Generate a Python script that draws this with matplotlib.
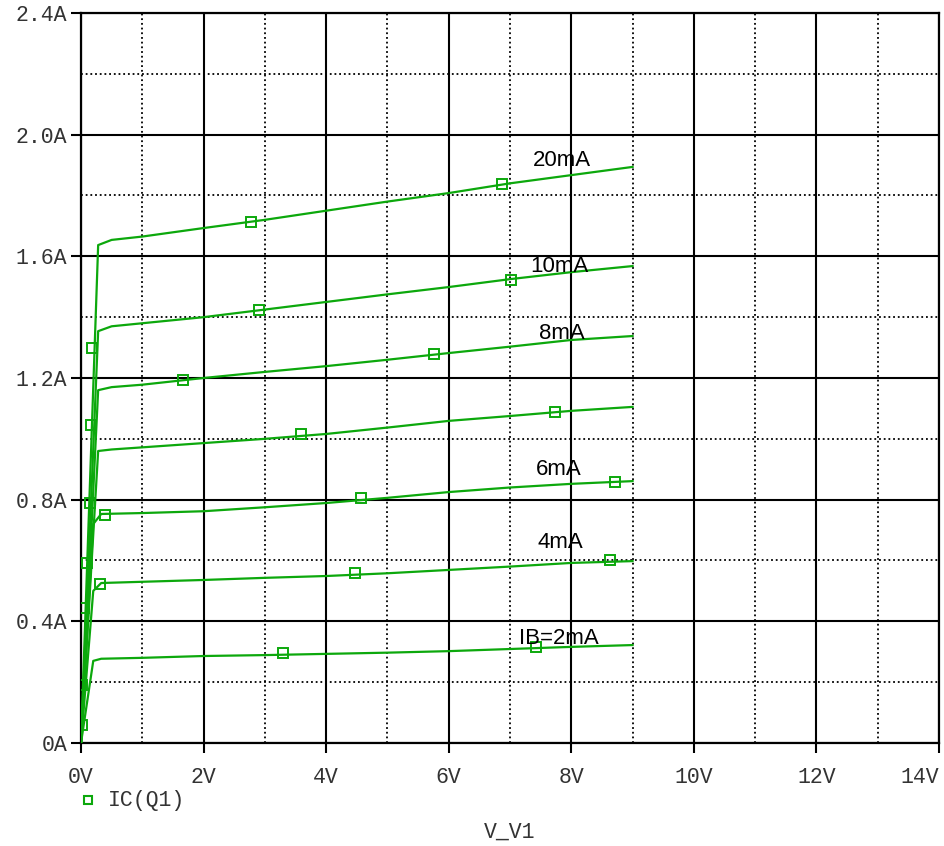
import matplotlib
matplotlib.use("Agg")
import matplotlib.pyplot as plt
from matplotlib.lines import Line2D
from matplotlib.ticker import MultipleLocator

# collector current traces, one per base current (V_V1 in V, IC in A)
v_pts = [0, 0.28, 0.5, 1, 2, 3, 4, 5, 6, 7, 8, 9]
ic_20ma = [0, 1.637, 1.654, 1.665, 1.693, 1.72, 1.75, 1.78, 1.808, 1.84, 1.867, 1.894]
ic_10ma = [0, 1.354, 1.37, 1.38, 1.40, 1.425, 1.45, 1.475, 1.499, 1.525, 1.548, 1.568]
ic_8ma = [0, 1.16, 1.17, 1.178, 1.20, 1.22, 1.239, 1.26, 1.282, 1.303, 1.325, 1.338]
ic_7ma = [0, 0.96, 0.965, 0.972, 0.986, 1.0, 1.016, 1.037, 1.059, 1.075, 1.092, 1.105]
v_low = [0, 0.2, 0.33, 1, 2, 3, 4, 5, 6, 7, 8, 9]
ic_6ma = [0, 0.72, 0.753, 0.756, 0.762, 0.775, 0.789, 0.806, 0.825, 0.84, 0.852, 0.861]
ic_4ma = [0, 0.50, 0.526, 0.53, 0.536, 0.543, 0.549, 0.558, 0.569, 0.58, 0.592, 0.598]
ic_2ma = [0, 0.27, 0.277, 0.28, 0.286, 0.289, 0.293, 0.297, 0.302, 0.309, 0.316, 0.322]

traces = [(v_pts, ic_20ma), (v_pts, ic_10ma), (v_pts, ic_8ma), (v_pts, ic_7ma),
          (v_low, ic_6ma), (v_low, ic_4ma), (v_low, ic_2ma)]

# trace symbols as drawn by the probe
mark_v = [2.77, 6.87, 2.90, 7.02, 1.66, 5.76, 3.59, 7.73, 0.39, 4.57, 8.71,
          0.31, 4.47, 8.63, 3.30, 7.42, 0.18, 0.16, 0.15, 0.10, 0.05, 0.02, 0.02]
mark_i = [1.713, 1.838, 1.424, 1.522, 1.193, 1.279, 1.016, 1.088, 0.750, 0.805, 0.858,
          0.523, 0.559, 0.602, 0.296, 0.316, 1.30, 1.045, 0.789, 0.592, 0.444, 0.19, 0.06]

labels = ["20mA", "10mA", "8mA", "6mA", "4mA", "IB=2mA"]
label_v = [7.85, 7.8, 7.85, 7.8, 7.82, 7.8]
label_i = [1.915, 1.568, 1.346, 0.90, 0.66, 0.345]

green = "#0ca80c"
mono = "Liberation Mono"

fig = plt.figure(figsize=(9.45, 8.46), dpi=100)
ax = fig.add_axes([81 / 945, 103 / 846, 858 / 945, 730 / 846])

for v, ic in traces:
    ax.plot(v, ic, color=green, linewidth=1.6, zorder=3)
ax.plot(mark_v, mark_i, linestyle="none", marker="s", markersize=7.5,
        markerfacecolor="none", markeredgecolor=green, markeredgewidth=1.4, zorder=4)

for t, x, y in zip(labels, label_v, label_i):
    ax.text(x, y, t, fontsize=16, family="Liberation Sans", ha="center",
            va="center", color="black", zorder=5)

ax.set_xlim(0, 14)
ax.set_ylim(0, 2.4)
ax.xaxis.set_minor_locator(MultipleLocator(1))
ax.yaxis.set_minor_locator(MultipleLocator(0.2))
ax.set_xticks(range(0, 15, 2))
ax.set_xticklabels([f"{v}V" for v in range(0, 15, 2)])
ax.set_yticks([0, 0.4, 0.8, 1.2, 1.6, 2.0, 2.4])
ax.set_yticklabels(["0A", "0.4A", "0.8A", "1.2A", "1.6A", "2.0A", "2.4A"])

ax.grid(which="major", color="black", linewidth=1.5, linestyle="-")
ax.grid(which="minor", color="black", linewidth=1.3, linestyle=(0, (1, 1.6)))
ax.set_axisbelow(True)
for s in ax.spines.values():
    s.set_linewidth(1.6)
ax.tick_params(which="major", direction="out", length=7, width=1.5,
               labelsize=15.5, labelcolor="#333333", pad=3)
ax.tick_params(axis="x", pad=10)
ax.tick_params(which="minor", length=0)
for lab in ax.get_xticklabels() + ax.get_yticklabels():
    lab.set_family(mono)
ax.get_xticklabels()[-1].set_horizontalalignment("right")

# legend entry and x axis title below the plot
fig.add_artist(Line2D([88 / 945], [1 - 800 / 846], marker="s", markersize=6,
                      markerfacecolor="none", markeredgecolor=green,
                      markeredgewidth=1.5, linestyle="none"))
fig.text(108 / 945, 1 - 800 / 846, "IC(Q1)", family=mono, fontsize=15.5,
         color="#333333", va="center", ha="left")
fig.text(510 / 945, 1 - 832 / 846, "V_V1", family=mono, fontsize=15.5,
         color="#333333", va="center", ha="center")

fig.savefig("out.png", dpi=100)
